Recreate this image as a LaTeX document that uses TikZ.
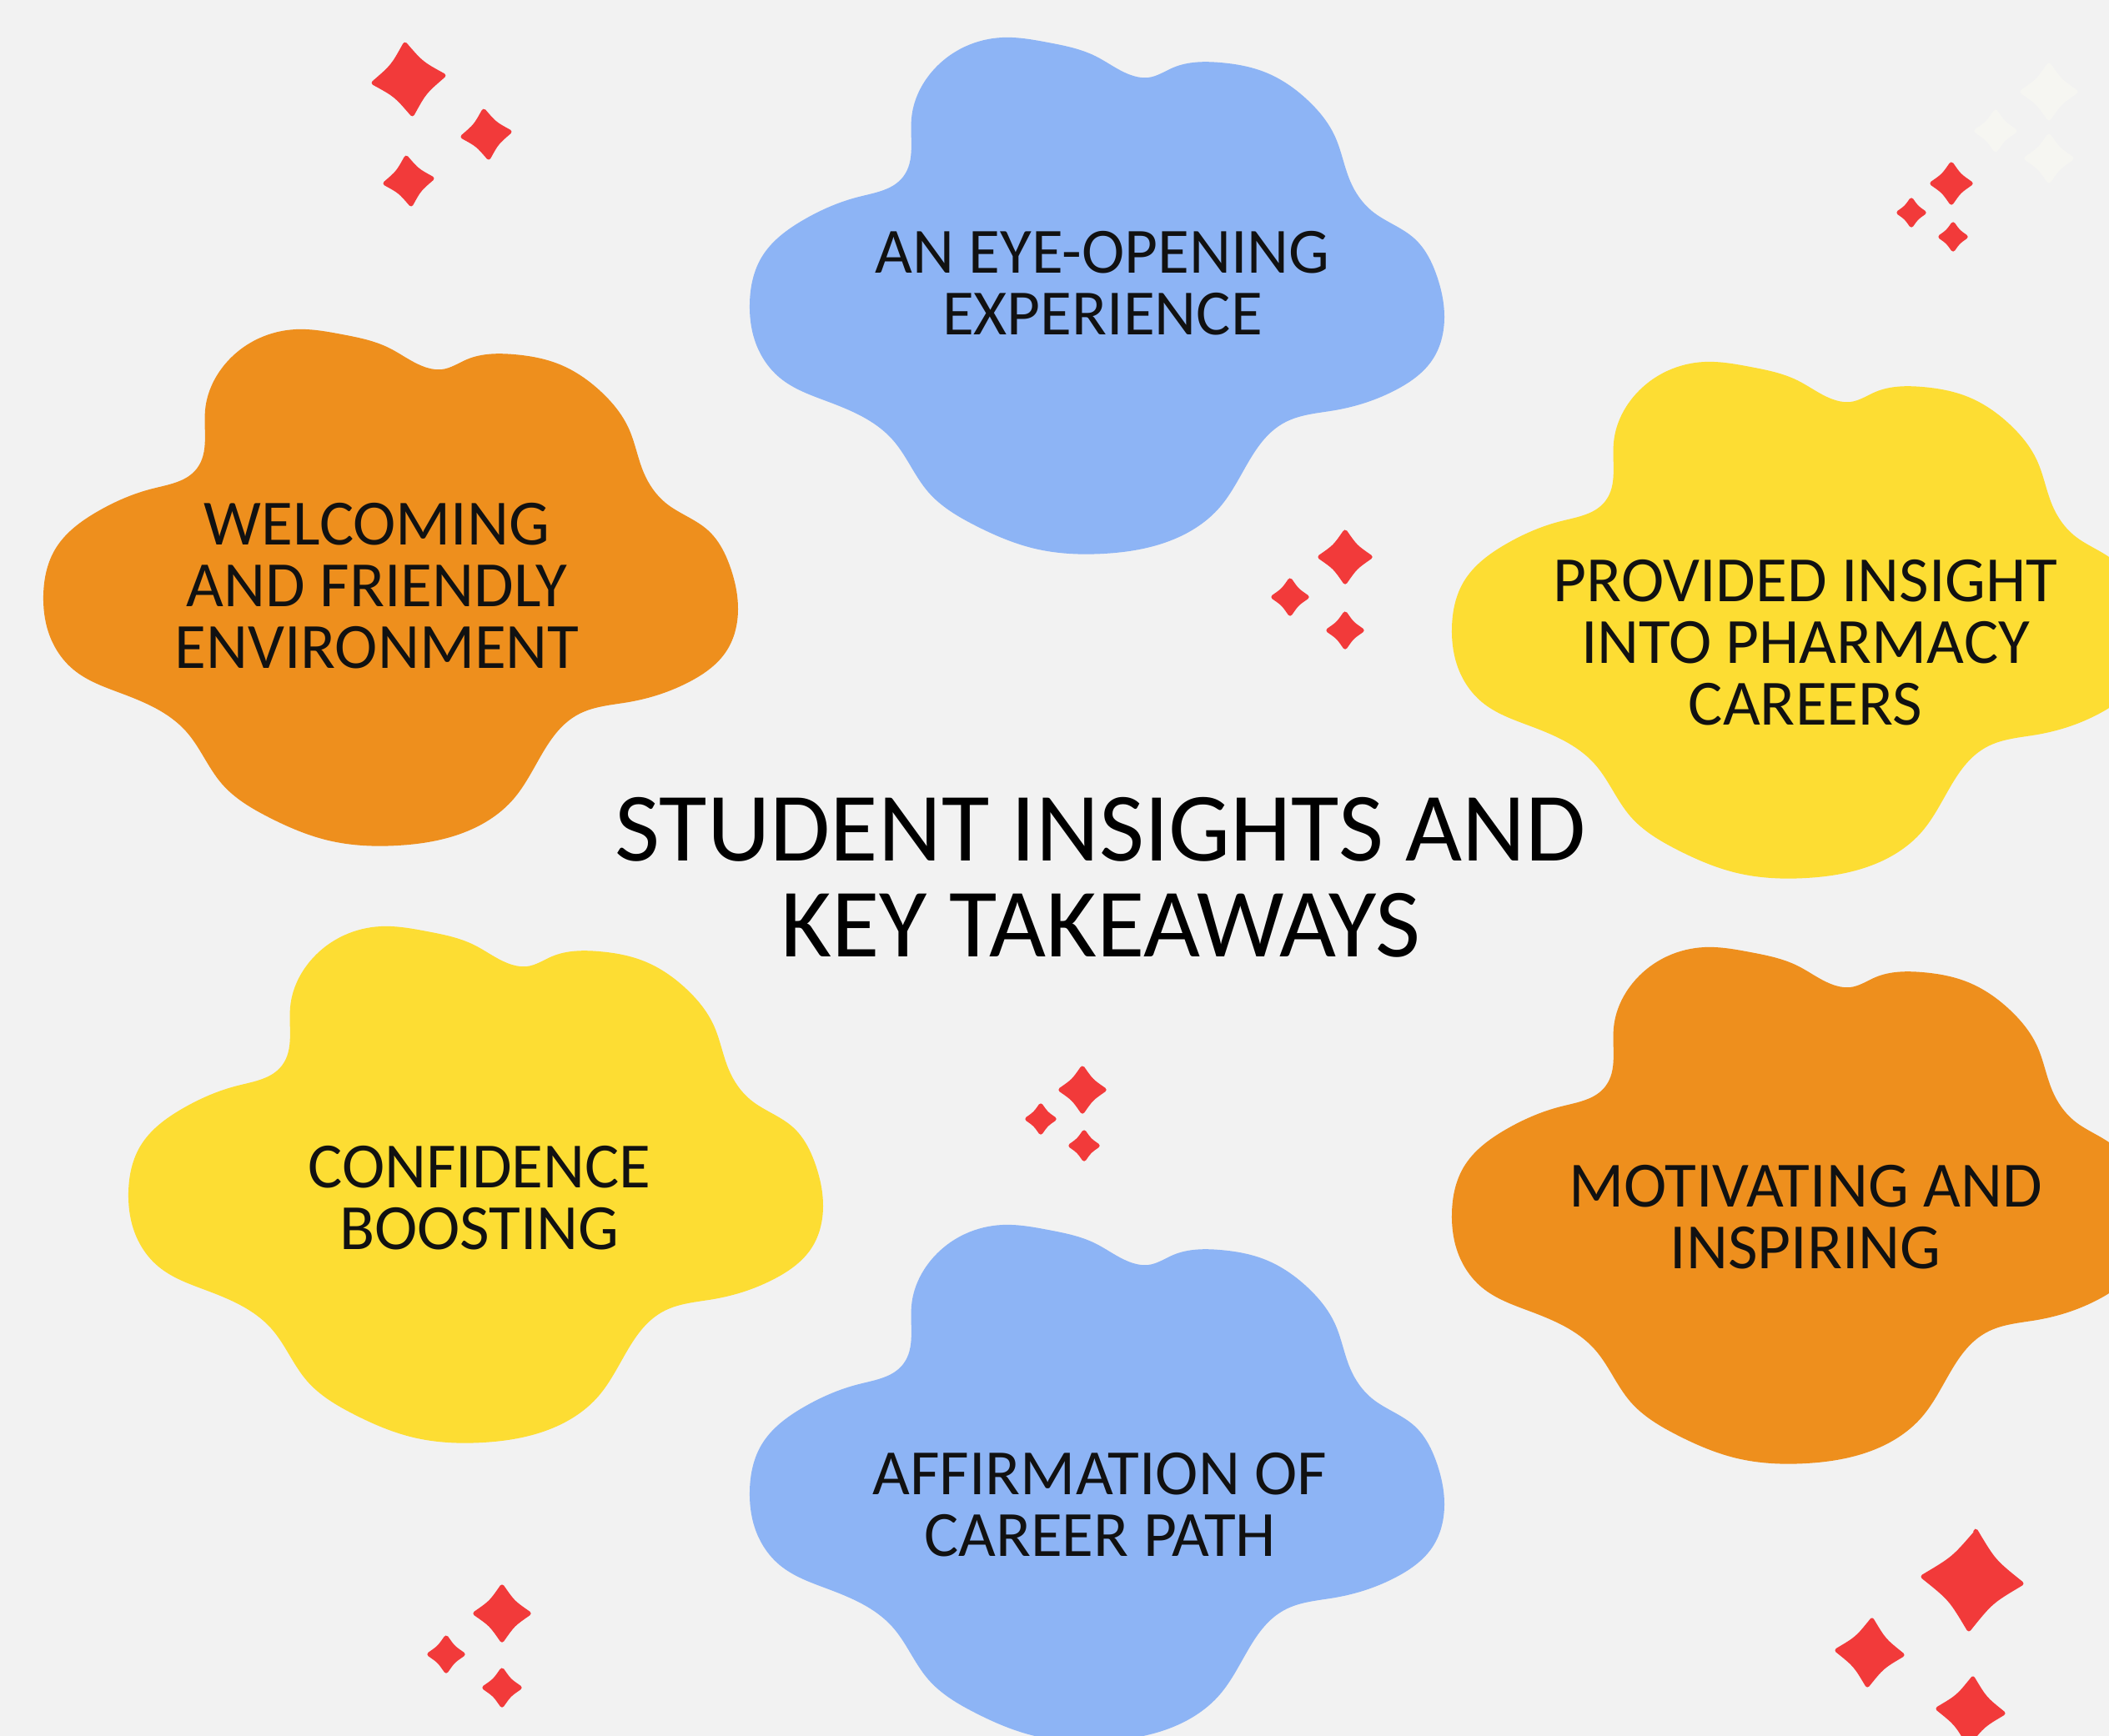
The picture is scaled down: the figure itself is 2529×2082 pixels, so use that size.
\documentclass[tikz,border=0pt]{standalone}
\usepackage{fontspec}
\setmainfont{Carlito}
\usetikzlibrary{hobby}
\definecolor{bgc}{HTML}{F2F2F2}
\definecolor{blueC}{HTML}{8DB4F5}
\definecolor{orangeC}{HTML}{EE8F1D}
\definecolor{yellowC}{HTML}{FDDD33}
\definecolor{sparkred}{HTML}{F23A3A}
\definecolor{faintC}{HTML}{F6F6F2}
\definecolor{inkC}{HTML}{111111}
\tikzset{
  pics/blob/.style={code={
    \fill[#1] plot[closed hobby] coordinates {
      (-222,-215) (-200,-268) (-158,-301) (-113,-312) (-58,-306) (-2,-290)
      (44,-266) (62,-264) (92,-276) (148,-282) (203,-270) (253,-237)
      (286,-193) (304,-140) (330,-104) (381,-71) (408,-26)
      (417,24) (403,74) (360,110) (286,135) (225,150)
      (148,251) (92,290) (9,307) (-74,301) (-146,273) (-202,233)
      (-245,170) (-324,124) (-380,96) (-410,51) (-416,7)
      (-402,-48) (-352,-93) (-285,-121) (-232,-145)
    };
  }},
  pics/sparkle/.style={code={
    \filldraw[#1, line width=1.5pt, line join=round]
      (0,-1) .. controls (0.41,-0.41) .. (1,0)
      .. controls (0.41,0.41) .. (0,1)
      .. controls (-0.41,0.41) .. (-1,0)
      .. controls (-0.41,-0.41) .. cycle;
  }},
  label/.style={font=\fontsize{22}{21}\selectfont, text=inkC, align=center, inner sep=0pt},
  titlelabel/.style={font=\fontsize{33.4}{32.6}\selectfont, text=black, align=center, inner sep=0pt}
}
\begin{document}
\begin{tikzpicture}[x={(0.01cm,0)}, y={(0,-0.01cm)}]
\useasboundingbox (0,0) rectangle (2529,2082);
\fill[bgc] (0,0) rectangle (2529,2082);
\begin{scope}
\clip (0,0) rectangle (2529,2082);
% blobs
\pic at (1315,357) {blob=blueC};
\pic at (468,707) {blob=orangeC};
\pic at (2157,746) {blob=yellowC};
\pic at (570,1423) {blob=yellowC};
\pic at (2157,1448) {blob=orangeC};
\pic at (1315,1781) {blob=blueC};
% sparkles top-left
\pic[scale=42, rotate=6] at (490,95) {sparkle=sparkred};
\pic[scale=28, rotate=6] at (583,161) {sparkle=sparkred};
\pic[scale=28, rotate=6] at (490,217) {sparkle=sparkred};
% sparkles middle
\pic[scale=30] at (1613,668) {sparkle=sparkred};
\pic[scale=20] at (1547,716) {sparkle=sparkred};
\pic[scale=20] at (1613,756) {sparkle=sparkred};
% sparkles top-right
\pic[scale=23] at (2340,220) {sparkle=sparkred};
\pic[scale=15] at (2292,255) {sparkle=sparkred};
\pic[scale=15] at (2342,284) {sparkle=sparkred};
% faint sparkles top-right
\pic[scale=32] at (2457,110) {sparkle=faintC};
\pic[scale=23] at (2393,157) {sparkle=faintC};
\pic[scale=27] at (2457,190) {sparkle=faintC};
% sparkles centre-bottom
\pic[scale=26] at (1298,1307) {sparkle=sparkred};
\pic[scale=16] at (1248,1342) {sparkle=sparkred};
\pic[scale=16] at (1300,1374) {sparkle=sparkred};
% sparkles bottom-left
\pic[scale=32] at (602,1935) {sparkle=sparkred};
\pic[scale=20] at (535,1984) {sparkle=sparkred};
\pic[scale=21] at (602,2024) {sparkle=sparkred};
% sparkles bottom-right
\pic[scale=59, rotate=-4] at (2365,1895) {sparkle=sparkred};
\pic[scale=39, rotate=-4] at (2242,1982) {sparkle=sparkred};
\pic[scale=39, rotate=-4] at (2363,2052) {sparkle=sparkred};
\end{scope}
% texts
\node[label] (eye) at (1322,340) {AN EYE-OPENING\\EXPERIENCE};
\node[label] (welcome) at (452,703) {WELCOMING\\AND FRIENDLY\\ENVIRONMENT};
\node[label] (pharm) at (2165,771) {PROVIDED INSIGHT\\INTO PHARMACY\\CAREERS};
\node[label] (conf) at (575,1437) {CONFIDENCE\\BOOSTING};
\node[label] (motiv) at (2165,1460) {MOTIVATING AND\\INSPIRING};
\node[label] (affirm) at (1319,1805) {AFFIRMATION OF\\CAREER PATH};
\node[titlelabel] (title) at (1320,1052) {STUDENT INSIGHTS AND\\KEY TAKEAWAYS};
\end{tikzpicture}
\end{document}
